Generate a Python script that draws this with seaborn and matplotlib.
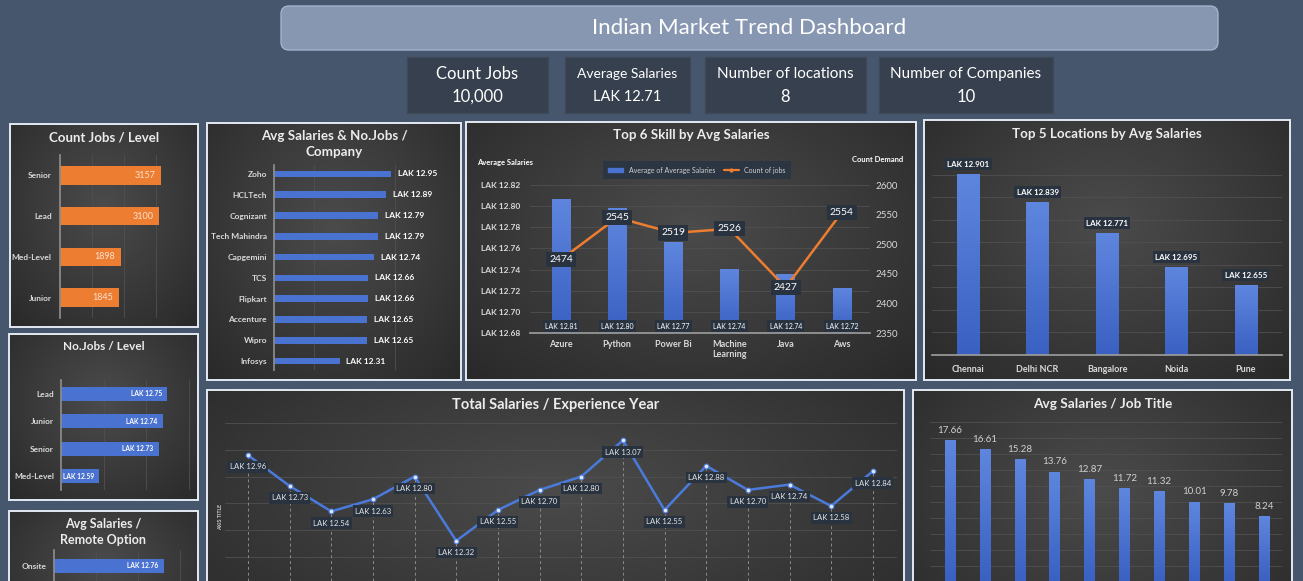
import numpy as np
import seaborn as sns
import matplotlib.pyplot as plt
from matplotlib.patches import FancyBboxPatch, Rectangle, Patch
from matplotlib.lines import Line2D
from matplotlib.colors import LinearSegmentedColormap

# ===== DATA =====
kpi_labels = ["Count Jobs", "Average Salaries", "Number of locations", "Number of Companies"]
kpi_values = ["10,000", "LAK 12.71", "8", "10"]

levels_count = ["Senior", "Lead", "Med-Level", "Junior"]
count_jobs = [3157, 3100, 1898, 1845]

levels_salary = ["Lead", "Junior", "Senior", "Med-Level"]
level_salary = [12.75, 12.74, 12.73, 12.59]

remote_options = ["Onsite"]
remote_salary = [12.76]

companies = ["Zoho", "HCLTech", "Cognizant", "Tech Mahindra", "Capgemini",
             "TCS", "Flipkart", "Accenture", "Wipro", "Infosys"]
company_salary = [12.95, 12.89, 12.79, 12.79, 12.74, 12.66, 12.66, 12.65, 12.65, 12.31]

skills = ["Azure", "Python", "Power Bi", "Machine\nLearning", "Java", "Aws"]
skill_salary = [12.807, 12.798, 12.766, 12.741, 12.736, 12.723]
skill_jobs = [2474, 2545, 2519, 2526, 2427, 2554]

locations = ["Chennai", "Delhi NCR", "Bangalore", "Noida", "Pune"]
location_salary = [12.901, 12.839, 12.771, 12.695, 12.655]

exp_years = [0, 1, 2, 3, 4, 5, 6, 7, 8, 9, 10, 11, 12, 13, 14, 15]
exp_salary = [12.96, 12.73, 12.54, 12.63, 12.80, 12.32, 12.55, 12.70,
              12.80, 13.07, 12.55, 12.88, 12.70, 12.74, 12.58, 12.84]

# job title names are cut off in the picture
job_titles = ["T1", "T2", "T3", "T4", "T5", "T6", "T7", "T8", "T9", "T10"]
job_salary = [17.66, 16.61, 15.28, 13.76, 12.87, 11.72, 11.32, 10.01, 9.78, 8.24]

# ===== STYLE =====
sns.set_theme(style="white")
plt.rcParams['font.family'] = ['Lato', 'DejaVu Sans']

W, H = 1303, 581
BG = "#46566c"
BLUE = "#4a72d0"
ORANGE = "#ed7d31"
TXT = "#d9d9d9"
GRID = "#505050"
BOX = dict(boxstyle="square,pad=0.3", fc="#29323f", ec="none")
BAR_KW = dict(saturation=1, errorbar=None, edgecolor="none", linewidth=0)
blue_grad = LinearSegmentedColormap.from_list("bars", ["#3a60c2", "#5f86de"])

fig = plt.figure(figsize=(W / 100, H / 100), dpi=100, facecolor=BG)


def rect(x0, y0, x1, y1):
    return [x0 / W, 1 - y1 / H, (x1 - x0) / W, (y1 - y0) / H]


def pix_axes(z):
    a = fig.add_axes([0, 0, 1, 1], zorder=z)
    a.set_xlim(0, W)
    a.set_ylim(H, 0)
    a.axis("off")
    a.patch.set_visible(False)
    return a


base = pix_axes(0)
top = pix_axes(10)

grad = LinearSegmentedColormap.from_list("panel", ["#4b4b4b", "#3a3a3a", "#282828"])
yy, xx = np.mgrid[0:1:150j, 0:1:150j]
rr = np.hypot((xx - 0.5) / 0.75, (yy - 0.4) / 0.85)


def panel(x0, y0, x1, y1, title, ty, size=9.6):
    bg = fig.add_axes(rect(x0, y0, x1, y1), zorder=1)
    bg.imshow(rr, cmap=grad, vmin=0, vmax=1, aspect="auto", extent=[0, 1, 0, 1])
    bg.set_axis_off()
    bg.add_patch(Rectangle((0, 0), 1, 1, transform=bg.transAxes, fill=False,
                           ec="#e4eaf2", lw=1.4, clip_on=False))
    top.text((x0 + x1) / 2, ty, title, ha="center", va="center", color="#ececec",
             fontsize=size, fontweight="bold", linespacing=1.3)


def chart(x0, y0, x1, y1):
    ax = fig.add_axes(rect(x0, y0, x1, y1), zorder=2)
    ax.patch.set_visible(False)
    for s in ax.spines.values():
        s.set_visible(False)
    ax.tick_params(length=0, colors=TXT)
    return ax


def shade(ax):
    # vertical light-to-dark fill on the visible part of each bar
    xl, yl = ax.get_xlim(), ax.get_ylim()
    lo = min(yl)
    for p in list(ax.patches):
        x, y, w, h = p.get_x(), p.get_y(), p.get_width(), p.get_height()
        y0 = max(y, lo)
        im = ax.imshow(np.linspace(0, 1, 64).reshape(-1, 1), cmap=blue_grad,
                       extent=[x, x + w, y0, y + h], origin="lower", aspect="auto",
                       zorder=p.get_zorder() + 0.1)
        im.set_clip_path(p)
    ax.set_xlim(xl)
    ax.set_ylim(yl)


def finish(ax):
    ax.set_xlabel("")
    ax.set_ylabel("")


# ===== HEADER =====
base.add_patch(FancyBboxPatch((281, 6), 937, 44, boxstyle="round,pad=0,rounding_size=8",
                              fc="#8797b1", ec="#a3b3cc", lw=1))
base.text(749, 28, "Indian Market Trend Dashboard", ha="center", va="center",
          color="white", fontsize=16)

kpi_boxes = [(407, 548), (565, 690), (705, 866), (879, 1053)]
kpi_sizes = [12, 10, 11, 11]
for (bx0, bx1), lab, val, fs in zip(kpi_boxes, kpi_labels, kpi_values, kpi_sizes):
    base.add_patch(Rectangle((bx0, 57), bx1 - bx0, 56, fc="#36404e", ec="#3e4a5a", lw=1))
    base.text((bx0 + bx1) / 2, 74, lab, ha="center", va="center", color="white", fontsize=fs)
    base.text((bx0 + bx1) / 2, 97, val, ha="center", va="center", color="white",
              fontsize=12 if fs != 10 else 10.5)

# ===== COUNT JOBS / LEVEL =====
panel(10, 124, 198, 327, "Count Jobs / Level", 138, 9.5)
ax = chart(60, 155, 188, 318)
sns.barplot(x=count_jobs, y=levels_count, orient="h", color=ORANGE, width=0.45,
            ax=ax, **BAR_KW)
ax.set_xlim(0, 4000)
ax.set_xticks([1000, 2000, 3000, 4000])
ax.set_xticklabels([])
ax.grid(axis="x", color=GRID, lw=0.6)
ax.spines["left"].set_visible(True)
ax.spines["left"].set_color("#8c8c8c")
ax.tick_params(axis="y", pad=6, labelsize=6)
for t in ax.get_yticklabels():
    t.set_fontweight("bold")
for i, v in enumerate(count_jobs):
    ax.annotate(str(v), (v, i), xytext=(-4, 0), textcoords="offset points", ha="right",
                va="center", color="#fbe2d0", fontsize=6.5)
finish(ax)

# ===== NO.JOBS / LEVEL =====
panel(9, 334, 198, 500, "No.Jobs / Level", 347, 8.5)
ax = chart(61, 380, 193, 490)
sns.barplot(x=level_salary, y=levels_salary, orient="h", color=BLUE, width=0.5,
            ax=ax, **BAR_KW)
ax.set_xlim(12.5, 12.81)
ax.set_xticks([12.6, 12.7, 12.8])
ax.set_xticklabels([])
ax.grid(axis="x", color=GRID, lw=0.6)
ax.spines["left"].set_visible(True)
ax.spines["left"].set_color("#8c8c8c")
ax.tick_params(axis="y", pad=5, labelsize=6)
for t in ax.get_yticklabels():
    t.set_fontweight("bold")
for i, v in enumerate(level_salary):
    ax.annotate(f"LAK {v:.2f}", (v, i), xytext=(-4, 0), textcoords="offset points",
                ha="right", va="center", color="white", fontsize=4.8, fontweight="bold")
finish(ax)

# ===== AVG SALARIES / REMOTE OPTION =====
panel(9, 511, 198, 640, "Avg Salaries /\nRemote Option", 532, 9)
ax = chart(54, 550, 193, 630)
sns.barplot(x=remote_salary, y=remote_options, orient="h", color=BLUE, width=0.44,
            ax=ax, **BAR_KW)
ax.set_ylim(2.0, -0.5)
ax.set_xlim(12.5, 12.83)
ax.set_xticks([12.6, 12.7, 12.8])
ax.set_xticklabels([])
ax.grid(axis="x", color=GRID, lw=0.6)
ax.spines["left"].set_visible(True)
ax.spines["left"].set_color("#8c8c8c")
ax.tick_params(axis="y", pad=5, labelsize=6)
for t in ax.get_yticklabels():
    t.set_fontweight("bold")
for i, v in enumerate(remote_salary):
    ax.annotate(f"LAK {v:.2f}", (v, i), xytext=(-4, 0), textcoords="offset points",
                ha="right", va="center", color="white", fontsize=4.8, fontweight="bold")
finish(ax)

# ===== AVG SALARIES / COMPANY =====
panel(207, 123, 461, 380, "Avg Salaries & No.Jobs /\nCompany", 144)
ax = chart(274, 165, 452, 370)
sns.barplot(x=company_salary, y=companies, orient="h", color=BLUE, width=0.32,
            ax=ax, **BAR_KW)
ax.set_ylim(9.43, -0.43)
ax.set_xlim(11.5, 13.7)
ax.set_xticks([12, 13])
ax.set_xticklabels([])
ax.grid(axis="x", color=GRID, lw=0.6)
ax.spines["left"].set_visible(True)
ax.spines["left"].set_color("#8c8c8c")
ax.tick_params(axis="y", pad=5, labelsize=6)
for t in ax.get_yticklabels():
    t.set_fontweight("bold")
for i, v in enumerate(company_salary):
    ax.annotate(f"LAK {v:.2f}", (v, i), xytext=(5, 0), textcoords="offset points",
                ha="left", va="center", color="white", fontsize=6, fontweight="bold")
finish(ax)

# ===== TOP 6 SKILL =====
panel(466, 122, 916, 380, "Top 6 Skill by Avg Salaries", 135)
ax = chart(530, 185, 870, 333)
sns.barplot(x=skills, y=skill_salary, color=BLUE, width=0.33, ax=ax, **BAR_KW)
ax.set_ylim(12.68, 12.82)
ax.set_xlim(-0.55, 5.5)
shade(ax)
yt = [12.68, 12.70, 12.72, 12.74, 12.76, 12.78, 12.80, 12.82]
ax.set_yticks(yt)
ax.set_yticklabels([f"LAK {t:.2f}" for t in yt], fontweight="bold", fontsize=6)
ax.grid(axis="y", color=GRID, lw=0.6)
ax.spines["bottom"].set_visible(True)
ax.spines["bottom"].set_color("#9a9a9a")
ax.tick_params(axis="y", pad=7)
ax.tick_params(axis="x", pad=5, labelsize=6.5)
for t in ax.get_xticklabels():
    t.set_fontweight("bold")
    t.set_linespacing(1.1)
for i, v in enumerate(skill_salary):
    ax.annotate(f"LAK {v:.2f}", (i, 12.68), xytext=(0, 5), textcoords="offset points",
                ha="center", va="center", color="white", fontsize=5, bbox=BOX, zorder=5)
finish(ax)

ax2 = ax.twinx()
ax2.set_zorder(3)
ax2.patch.set_visible(False)
for s in ax2.spines.values():
    s.set_visible(False)
sns.lineplot(x=list(range(len(skills))), y=skill_jobs, color=ORANGE, lw=1.8,
             marker="o", markersize=3, markeredgecolor=ORANGE, ax=ax2)
ax2.set_ylim(2350, 2600)
ax2.set_yticks([2350, 2400, 2450, 2500, 2550, 2600])
ax2.tick_params(length=0, colors=TXT, labelsize=7, pad=4)
ax2.grid(False)
for i, v in enumerate(skill_jobs):
    ax2.annotate(str(v), (i, v), ha="center", va="center", color="white",
                 fontsize=7.5, bbox=BOX)
ax2.set_ylabel("")

top.text(505, 163, "Average Salaries", ha="center", va="center", color="white",
         fontsize=5.5, fontweight="bold")
top.text(878, 159, "Count Demand", ha="center", va="center", color="white",
         fontsize=5.5, fontweight="bold")
handles = [Patch(color=BLUE), Line2D([], [], color=ORANGE, lw=1.6, marker="o", ms=2)]
fig.legend(handles, ["Average of Average Salaries", "Count of jobs"],
           loc="center", bbox_to_anchor=(697 / W, 1 - 170 / H), ncol=2, fontsize=5,
           labelcolor="#d0d0d0", facecolor="#2c3542", edgecolor="none", framealpha=1,
           fancybox=False, handlelength=2.2, handleheight=0.5, columnspacing=1.2,
           borderpad=0.8)

# ===== TOP 5 LOCATIONS =====
panel(924, 120, 1290, 380, "Top 5 Locations by Avg Salaries", 134)
ax = chart(932, 152, 1282, 355)
sns.barplot(x=locations, y=location_salary, color=BLUE, width=0.32, ax=ax, **BAR_KW)
ax.set_ylim(12.5, 12.95)
ax.set_xlim(-0.52, 4.52)
shade(ax)
ax.set_yticks(np.arange(12.5, 12.91, 0.05))
ax.set_yticklabels([])
ax.grid(axis="y", color=GRID, lw=0.6)
ax.spines["bottom"].set_visible(True)
ax.spines["bottom"].set_color("#9a9a9a")
ax.tick_params(axis="x", pad=7, labelsize=6.5)
for t in ax.get_xticklabels():
    t.set_fontweight("bold")
for i, v in enumerate(location_salary):
    ax.annotate(f"LAK {v:.3f}", (i, v), xytext=(0, 7), textcoords="offset points",
                ha="center", va="center", color="white", fontsize=5.8,
                fontweight="bold", bbox=BOX)
finish(ax)

# ===== TOTAL SALARIES / EXPERIENCE YEAR =====
panel(207, 390, 904, 640, "Total Salaries / Experience Year", 405, 10.5)
ax = chart(225, 423, 897, 581)
ax.set_xticks([])
xs = list(range(len(exp_years)))
ax.vlines(xs, 12.02, exp_salary, colors="#8a8a8a", linestyles=(0, (3, 3)), lw=0.7)
sns.lineplot(x=xs, y=exp_salary, color="#4a7bdc", lw=1.8, marker="o", markersize=3.5,
             markerfacecolor="#dbe6ff", markeredgecolor="#4a7bdc", ax=ax)
ax.set_ylim(12.02, 13.2)
ax.set_xlim(-0.55, len(exp_years) - 0.42)
ax.set_yticks([12.2, 12.4, 12.6, 12.8, 13.0, 13.2])
ax.set_yticklabels([])
ax.grid(axis="y", color=GRID, lw=0.6)
for i, v in enumerate(exp_salary):
    ax.annotate(f"LAK {v:.2f}", (i, v), xytext=(0, -8.5), textcoords="offset points",
                ha="center", va="center", color="#e6e6e6", fontsize=5.6, bbox=BOX)
finish(ax)
top.text(221, 517, "AXIS TITLE", rotation=90, ha="center", va="center", color="#cccccc",
         fontsize=3.8, fontweight="bold")

# ===== AVG SALARIES / JOB TITLE =====
panel(913, 390, 1292, 640, "Avg Salaries / Job Title", 404, 9.8)
ax = chart(930, 421.7, 1282, 581.7)
sns.barplot(x=job_titles, y=job_salary, color=BLUE, width=0.29, ax=ax, **BAR_KW)
ax.set_ylim(0, 20)
ax.set_xlim(-0.57, 9.52)
shade(ax)
ax.set_yticks(np.arange(2, 21, 2))
ax.set_yticklabels([])
ax.set_xticks([])
ax.grid(axis="y", color=GRID, lw=0.6)
for i, v in enumerate(job_salary):
    ax.annotate(f"{v:.2f}", (i, v), xytext=(0, 7), textcoords="offset points",
                ha="center", va="center", color="#d0d0d0", fontsize=7)
finish(ax)

fig.savefig("out.png", dpi=100, facecolor=BG)
